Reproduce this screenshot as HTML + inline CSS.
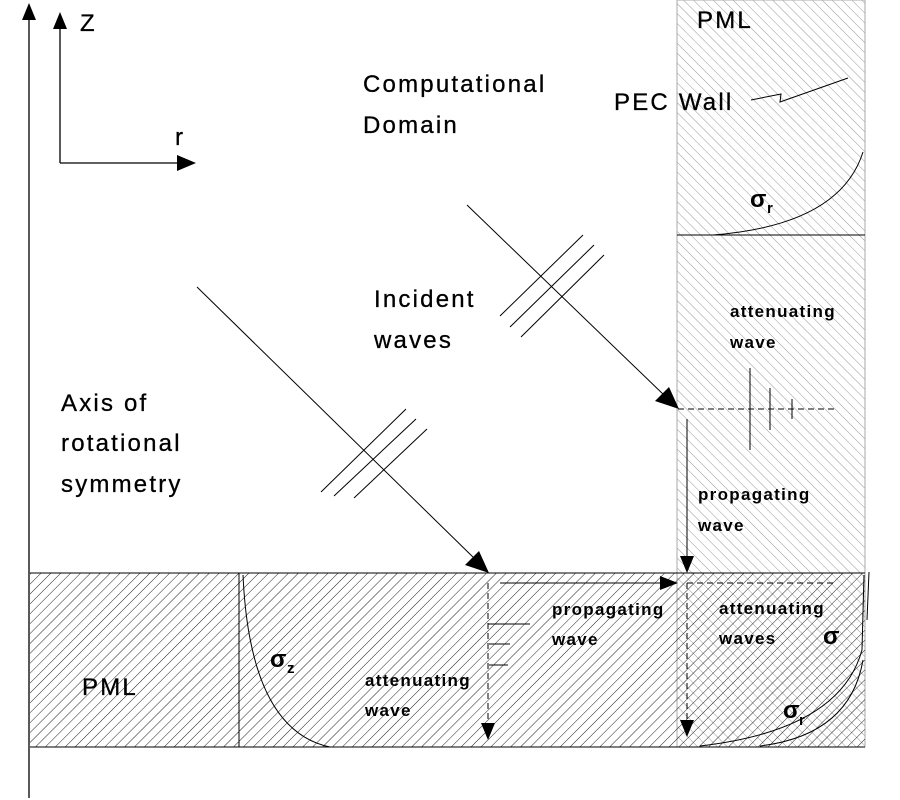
<!DOCTYPE html>
<html><head><meta charset="utf-8"><style>
html,body{margin:0;padding:0;background:#fff;width:900px;height:800px;overflow:hidden}
svg{display:block}
text{font-family:"Liberation Sans",Arial,sans-serif;fill:#000}
.big{font-size:24px;letter-spacing:2.2px;stroke:#000;stroke-width:0.3}
.sm{font-size:17px;font-weight:bold;letter-spacing:1.3px}
</style></head><body>
<svg width="900" height="800" viewBox="0 0 900 800" xmlns="http://www.w3.org/2000/svg">
<defs>
<pattern id="fw" patternUnits="userSpaceOnUse" width="7" height="7" patternTransform="rotate(45)">
<line x1="0" y1="0" x2="0" y2="7" stroke="#222" stroke-width="1"/>
</pattern>
<pattern id="bw" patternUnits="userSpaceOnUse" width="7" height="7" patternTransform="rotate(-45)">
<line x1="0" y1="0" x2="0" y2="7" stroke="#999" stroke-width="1"/>
</pattern>
</defs>
<!-- right PML -->
<rect x="677" y="0" width="188" height="747" fill="url(#bw)" stroke="#aaa" stroke-width="1"/>
<!-- bottom PML -->
<rect x="30" y="573" width="835" height="174" fill="url(#fw)"/>
<line x1="30" y1="573" x2="865" y2="573" stroke="#000"/>
<line x1="30" y1="747" x2="865" y2="747" stroke="#000"/>
<line x1="239" y1="573" x2="239" y2="747" stroke="#000"/>
<line x1="677" y1="235" x2="865" y2="235" stroke="#000"/>
<!-- axis -->
<line x1="29" y1="15" x2="29" y2="798" stroke="#000" stroke-width="1.3"/>
<polygon points="29,3 22,20 36,20" fill="#000"/>
<line x1="60" y1="22" x2="60" y2="163" stroke="#000" stroke-width="1.3"/>
<polygon points="60,12 53,29 67,29" fill="#000"/>
<line x1="60" y1="163" x2="185" y2="163" stroke="#000" stroke-width="1.3"/>
<polygon points="196,163 177,155 177,171" fill="#000"/>
<text x="80" y="31" class="big">Z</text>
<text x="175" y="145" class="big">r</text>
<text x="363" y="92" class="big">Computational</text>
<text x="363" y="133" class="big">Domain</text>
<text x="374" y="307" class="big">Incident</text>
<text x="374" y="348" class="big">waves</text>
<text x="61" y="411" class="big">Axis of</text>
<text x="61" y="451" class="big">rotational</text>
<text x="61" y="492" class="big">symmetry</text>
<text x="697" y="28" class="big">PML</text>
<text x="614" y="110" class="big">PEC Wall</text>
<text x="82" y="695" class="big">PML</text>
<polyline points="751,100 781,94 780,102 848,78" fill="none" stroke="#000"/>
<!-- sigma_r top -->
<path d="M713,235 Q840,225 863,152" fill="none" stroke="#000"/>
<text x="750" y="207" font-size="24" font-weight="bold">σ</text><text x="767" y="213" font-size="15" font-weight="bold">r</text>
<!-- incident rays -->
<line x1="467" y1="205" x2="665" y2="396" stroke="#000"/>
<polygon points="679,409 655,401 669,387" fill="#000"/>
<line x1="500" y1="316" x2="583" y2="235" stroke="#000"/>
<line x1="510" y1="327" x2="594" y2="245" stroke="#000"/>
<line x1="521" y1="337" x2="604" y2="255" stroke="#000"/>
<line x1="197" y1="287" x2="476" y2="560" stroke="#000"/>
<polygon points="489,573 465,565 479,551" fill="#000"/>
<line x1="321" y1="492" x2="406" y2="409" stroke="#000"/>
<line x1="334" y1="496" x2="416" y2="419" stroke="#000"/>
<line x1="354" y1="498" x2="427" y2="429" stroke="#000"/>
<!-- right pml waves -->
<line x1="678" y1="409" x2="835" y2="409" stroke="#000" stroke-dasharray="6,4"/>
<line x1="750" y1="368" x2="750" y2="450" stroke="#000"/>
<line x1="770" y1="388" x2="770" y2="430" stroke="#000"/>
<line x1="792" y1="399" x2="792" y2="419" stroke="#000"/>
<text x="730" y="317" class="sm">attenuating</text>
<text x="730" y="348" class="sm">wave</text>
<line x1="687" y1="419" x2="687" y2="556" stroke="#000"/>
<polygon points="687,573 680,556 694,556" fill="#000"/>
<text x="698" y="500" class="sm">propagating</text>
<text x="698" y="531" class="sm">wave</text>
<!-- bottom waves -->
<line x1="500" y1="583" x2="660" y2="583" stroke="#000"/>
<polygon points="678,583 660,576 660,590" fill="#000"/>
<line x1="488" y1="583" x2="488" y2="725" stroke="#000" stroke-dasharray="6,4"/>
<polygon points="488,740 481,723 495,723" fill="#000"/>
<line x1="488" y1="624" x2="530" y2="624" stroke="#000"/>
<line x1="489" y1="644" x2="510" y2="644" stroke="#000"/>
<line x1="489" y1="665" x2="508" y2="665" stroke="#000"/>
<text x="552" y="615" class="sm">propagating</text>
<text x="552" y="645" class="sm">wave</text>
<line x1="687" y1="583" x2="687" y2="722" stroke="#000" stroke-dasharray="6,4"/>
<line x1="687" y1="583" x2="835" y2="583" stroke="#000" stroke-dasharray="6,4"/>
<polygon points="687,737 680,720 694,720" fill="#000"/>
<text x="719" y="614" class="sm">attenuating</text>
<text x="719" y="644" class="sm">waves</text>
<text x="823" y="644" font-size="24" font-weight="bold">σ</text>
<text x="783" y="718" font-size="24" font-weight="bold">σ</text><text x="799" y="725" font-size="15" font-weight="bold">r</text>
<path d="M700,746 Q840,730 862,650 L864,575" fill="none" stroke="#000"/>
<path d="M760,746 Q850,735 863,660" fill="none" stroke="#000"/>
<line x1="869" y1="572" x2="867" y2="620" stroke="#000"/>
<!-- sigma_z -->
<path d="M243,575 Q250,730 330,747" fill="none" stroke="#000"/>
<text x="270" y="667" font-size="24" font-weight="bold">σ</text><text x="287" y="673" font-size="15" font-weight="bold">z</text>
<text x="365" y="686" class="sm">attenuating</text>
<text x="365" y="716" class="sm">wave</text>
</svg>
</body></html>
